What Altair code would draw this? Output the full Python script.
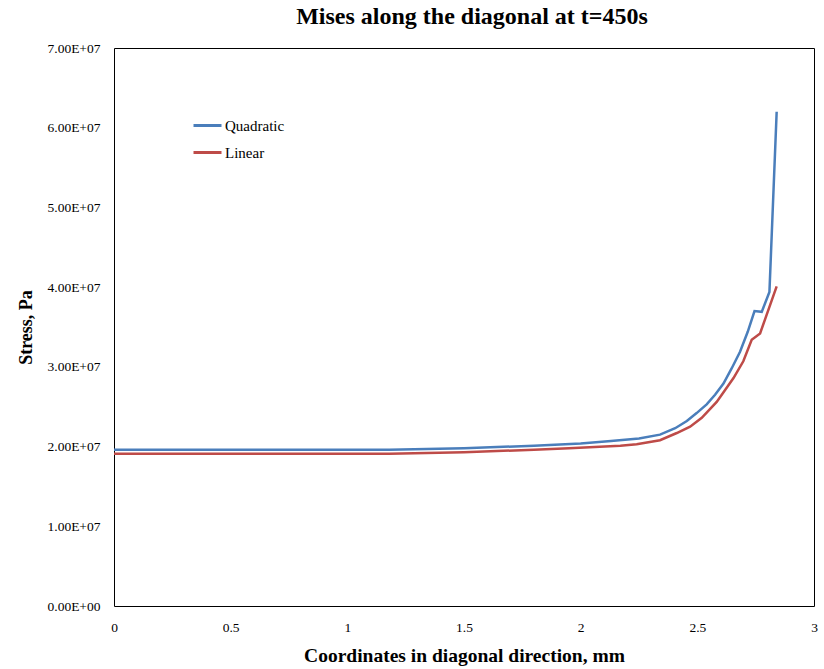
import altair as alt
import pandas as pd

quad_x = [0.0, 0.6, 1.18, 1.5, 1.8, 2.0, 2.13, 2.25, 2.34, 2.405, 2.455, 2.497, 2.54,
          2.576, 2.612, 2.647, 2.683, 2.716, 2.745, 2.776, 2.809, 2.84]
quad_y = [1.96e7, 1.96e7, 1.96e7, 1.98e7, 2.01e7, 2.04e7, 2.07e7, 2.10e7, 2.15e7, 2.23e7, 2.32e7,
          2.42e7, 2.53e7, 2.65e7, 2.79e7, 2.98e7, 3.19e7, 3.44e7, 3.70e7, 3.69e7, 3.94e7, 6.20e7]

lin_x = [0.0, 0.6, 1.18, 1.5, 1.8, 1.95, 2.17, 2.24, 2.34, 2.412, 2.469, 2.519, 2.583,
         2.619, 2.655, 2.697, 2.733, 2.769, 2.84]
lin_y = [1.91e7, 1.91e7, 1.91e7, 1.93e7, 1.96e7, 1.98e7, 2.01e7, 2.03e7, 2.08e7, 2.17e7, 2.25e7,
         2.36e7, 2.56e7, 2.71e7, 2.86e7, 3.07e7, 3.34e7, 3.42e7, 4.01e7]

series_names = ["Quadratic", "Linear"]
series_colors = ["#4A7EBB", "#BE4B48"]

rows = []
for i, (x, y) in enumerate(zip(quad_x, quad_y)):
    rows.append({"x": x, "y": y, "series": "Quadratic", "order": i})
for i, (x, y) in enumerate(zip(lin_x, lin_y)):
    rows.append({"x": x, "y": y, "series": "Linear", "order": i})
df = pd.DataFrame(rows)

font = "Liberation Serif"

chart = alt.Chart(df).mark_line(strokeWidth=2.5).encode(
    x=alt.X("x:Q", scale=alt.Scale(domain=[0, 3], nice=False),
            axis=alt.Axis(values=[0, 0.5, 1, 1.5, 2, 2.5, 3], format="~g",
                          title="Coordinates in diagonal direction, mm", grid=False, domain=False,
                          ticks=False, labelPadding=14, labelFontSize=13.5, labelFont=font,
                          labelColor="black", titleFont=font, titleFontSize=19.5,
                          titleFontWeight="bold", titleColor="black", titlePadding=13,
                          labelFlush=False)),
    y=alt.Y("y:Q", scale=alt.Scale(domain=[0, 7e7], nice=False),
            axis=alt.Axis(values=[0, 1e7, 2e7, 3e7, 4e7, 5e7, 6e7, 7e7],
                          labelExpr="datum.value == 0 ? '0.00E+00' : format(datum.value/1e7, '.2f') + 'E+07'",
                          title="Stress, Pa", grid=False, domain=False, ticks=False,
                          labelPadding=14, labelFontSize=13.5, labelFont=font, labelColor="black",
                          titleFont=font, titleFontSize=18, titleFontWeight="bold",
                          titleColor="black", titlePadding=12)),
    color=alt.Color("series:N", scale=alt.Scale(domain=series_names, range=series_colors),
                    sort=series_names,
                    legend=alt.Legend(title=None, orient="none", legendX=78, legendY=62,
                                      symbolType="stroke", symbolSize=784, symbolStrokeWidth=3,
                                      labelFont=font, labelFontSize=15, labelColor="black",
                                      rowPadding=3, labelOffset=2)),
    order="order:Q",
).properties(
    width=700, height=558,
    title=alt.TitleParams("Mises along the diagonal at t=450s", font=font, fontSize=24,
                          fontWeight="bold", color="black", offset=12, dx=8),
    autosize=alt.AutoSizeParams(type="none"),
    padding={"left": 114, "top": 48, "right": 10, "bottom": 63},
).configure_view(stroke="black", strokeWidth=1)

chart.save("out.html", embed_options={"renderer": "svg", "actions": False})
